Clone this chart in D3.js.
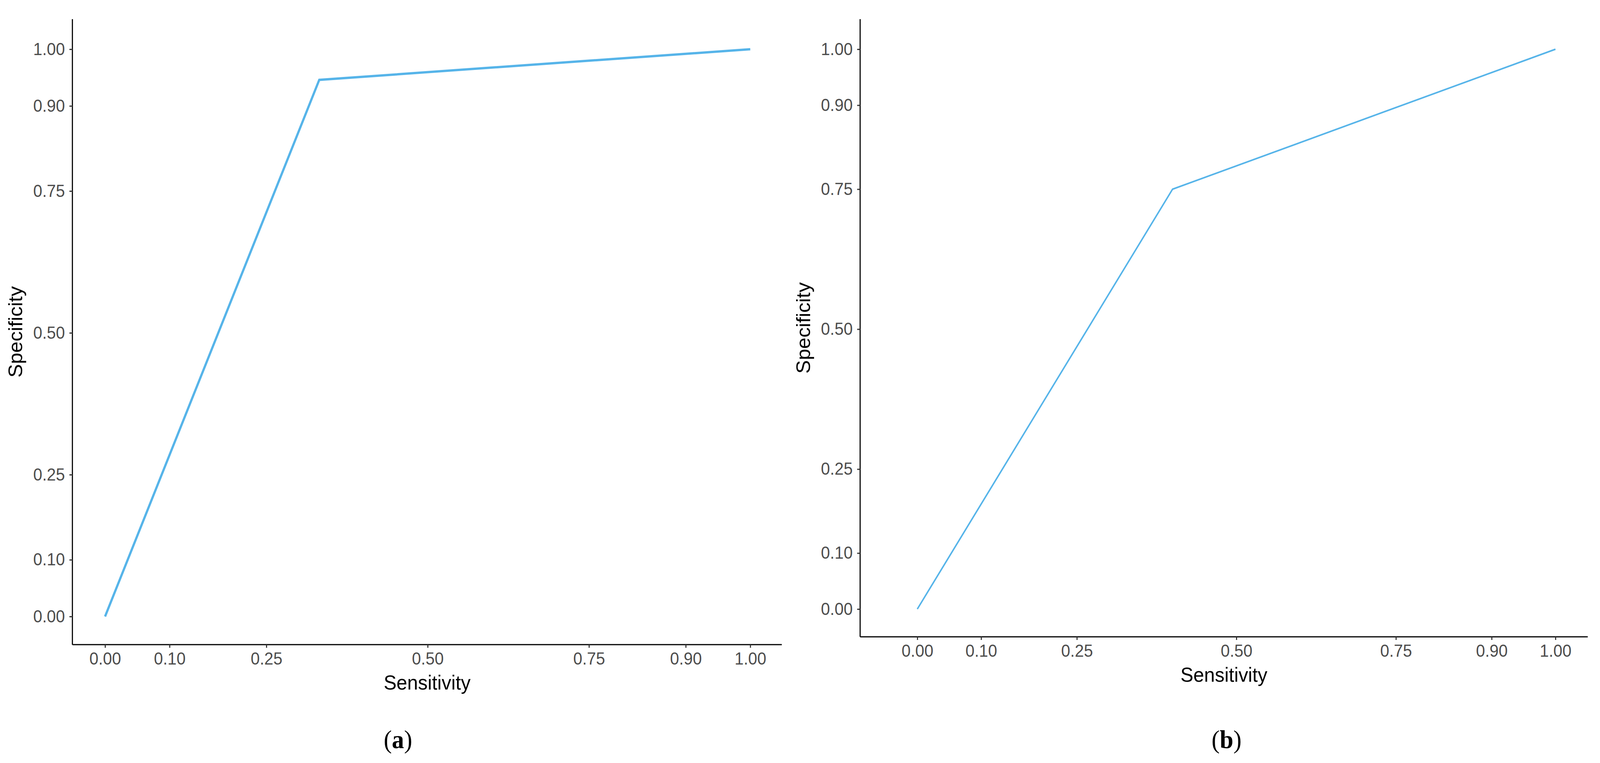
<!DOCTYPE html>
<html>
<head>
<meta charset="utf-8">
<script src="https://cdn.jsdelivr.net/npm/d3@7"></script>
<style>
  html, body { margin: 0; background: #fff; overflow: hidden; }
  svg { display: block; width: 100vw; height: 100vh; }
  text { font-family: "Liberation Sans", Arial, sans-serif; }
</style>
</head>
<body>
<svg id="chart" viewBox="0 0 4310 1953" preserveAspectRatio="none"></svg>
<script>
// ROC points
var sensA = [0, 0.332, 1];
var specA = [0, 0.946, 1];
var sensB = [0, 0.40, 1];
var specB = [0, 0.75, 1];
var tickValues = [0, 0.10, 0.25, 0.50, 0.75, 0.90, 1.00];
var captions = ["a", "b"];

var svg = d3.select("#chart");

// draw one panel
function drawPanel(sens, spec, box, caption, lw) {
  var x = d3.scaleLinear().domain([0, 1]).range([box.x0, box.x1]);
  var y = d3.scaleLinear().domain([0, 1]).range([box.y0, box.y1]);
  var g = svg.append("g");

  var xAxis = g.append("g")
    .attr("transform", "translate(0," + box.bottom + ")")
    .call(d3.axisBottom(x).tickValues(tickValues).tickFormat(d3.format(".2f")).tickSize(8).tickPadding(12).tickSizeOuter(0));
  xAxis.select(".domain").attr("d", "M" + box.left + ",0H" + box.right);

  var yAxis = g.append("g")
    .attr("transform", "translate(" + box.left + ",0)")
    .call(d3.axisLeft(y).tickValues(tickValues).tickFormat(d3.format(".2f")).tickSize(8).tickPadding(12).tickSizeOuter(0));
  yAxis.select(".domain").attr("d", "M0," + box.top + "V" + box.bottom);

  g.selectAll(".domain").attr("stroke", "#000").attr("stroke-width", 3);
  g.selectAll(".tick line").attr("stroke", "#333").attr("stroke-width", 3);
  g.selectAll(".tick text").attr("fill", "#4d4d4d").style("font-size", "44px");

  var pts = sens.map(function(s, i) { return [s, spec[i]]; });
  var line = d3.line().x(function(d) { return x(d[0]); }).y(function(d) { return y(d[1]); });
  g.append("path").datum(pts)
    .attr("d", line)
    .attr("fill", "none")
    .attr("stroke", "#56B4E9")
    .attr("stroke-width", lw);

  g.append("text")
    .attr("x", (box.left + box.right) / 2)
    .attr("y", box.bottom + 115)
    .attr("text-anchor", "middle")
    .style("font-size", "52px")
    .text("Sensitivity");

  g.append("text")
    .attr("transform", "translate(" + (box.left - 135) + "," + ((box.top + box.bottom) / 2) + ") rotate(-90)")
    .attr("text-anchor", "middle")
    .style("font-size", "52px")
    .text("Specificity");

  var cap = g.append("text")
    .attr("x", box.capX)
    .attr("y", 1915)
    .attr("text-anchor", "middle")
    .style("font-family", "'Liberation Serif', 'DejaVu Serif', serif")
    .style("font-size", "66px");
  cap.append("tspan").text("(");
  cap.append("tspan").style("font-weight", "bold").text(caption);
  cap.append("tspan").text(")");
}

drawPanel(sensA, specA, {left: 195, right: 2106, top: 49, bottom: 1650, x0: 283, x1: 2021, y0: 1578, y1: 126, capX: 1072}, captions[0], 6);
drawPanel(sensB, specB, {left: 2317, right: 4277, top: 49, bottom: 1630, x0: 2471, x1: 4190, y0: 1559, y1: 126, capX: 3304}, captions[1], 4);
</script>
</body>
</html>
